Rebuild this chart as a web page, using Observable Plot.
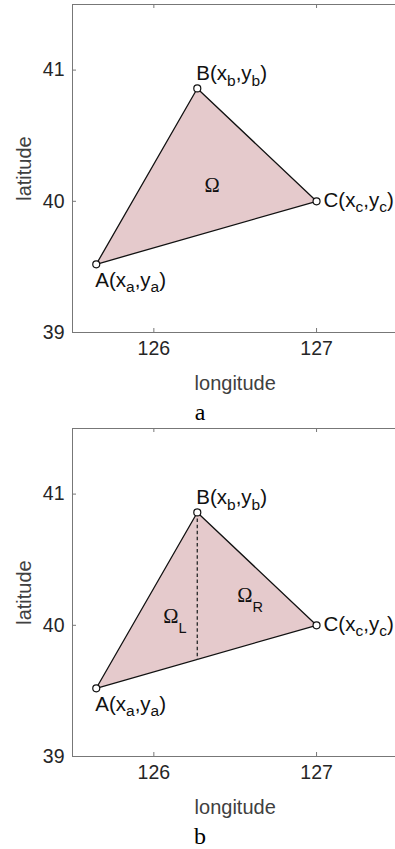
<!DOCTYPE html>
<html>
<head>
<meta charset="utf-8">
<script src="https://cdn.jsdelivr.net/npm/d3@7"></script>
<script src="https://cdn.jsdelivr.net/npm/@observablehq/plot@0.6"></script>
<style>
  html, body { margin: 0; padding: 0; background: #fff; overflow: hidden; width: 395px; height: 849px; }
  .panel { width: 395px; }
  .panel svg { overflow: hidden; display: block; }
  .caption { font-family: "Liberation Serif", "DejaVu Serif", serif; font-size: 24px; color: #000; text-align: center; padding-left: 5px; }
</style>
</head>
<body>
<div id="panel-a" class="panel"></div>
<div id="panel-b" class="panel"></div>
<script>
// Triangle vertices (longitude, latitude)
const vertexNames = ["A", "B", "C"];
const vertexLon = [125.646, 126.267, 127.0];
const vertexLat = [39.52, 40.86, 40.0];
const vertexLabels = ["A(x_a,y_a)", "B(x_b,y_b)", "C(x_c,y_c)"];

// Region labels, panel a (whole triangle) and panel b (split at x_b)
const regionNamesA = ["Ω"];
const regionLonA = [126.312];
const regionLatA = [40.12];
const regionNamesB = ["Ω_L", "Ω_R"];
const regionLonB = [126.058, 126.513];
const regionLatB = [40.064, 40.227];

// Axes
const xTicks = [126, 127];
const yTicks = [39, 40, 41];
const xDomain = [125.5, 127.5];
const yDomain = [39, 41.5];
const captions = ["a", "b"];

const vertices = vertexNames.map((name, i) => ({name, lon: vertexLon[i], lat: vertexLat[i], label: vertexLabels[i]}));
const ring = [...vertices, vertices[0]];

// Foot of the vertical through B on segment AC
const [A, B, C] = vertices;
const footLat = A.lat + (B.lon - A.lon) * (C.lat - A.lat) / (C.lon - A.lon);

const W = 395, ML = 72, MR = -2.4, MB = 64, FRAME_H = 328, TICK = 4;
const frameW = W - ML - MR;
const SANS = "Liberation Sans, Arial, sans-serif";
const SERIF = "Liberation Serif, DejaVu Serif, serif";

// Turn "x_a" into x with a lowered, smaller "a"
function addSubscripts(svg) {
  d3.select(svg).selectAll("text").each(function () {
    const node = d3.select(this);
    const s = node.text();
    if (!s.includes("_")) return;
    const isRegion = s.startsWith("Ω");
    const subSize = isRegion ? 14.5 : 15.5;
    const drop = isRegion ? 10 : 5.5;
    const parts = s.split("_");
    node.text(null);
    node.append("tspan").text(parts[0]);
    parts.slice(1).forEach(p => {
      const sub = node.append("tspan").attr("dy", drop).attr("font-size", subSize).text(p[0]);
      if (isRegion) sub.attr("font-family", SANS);
      if (p.length > 1) node.append("tspan").attr("dy", -drop).text(p.slice(1));
    });
  });
}

function panel(regionNames, regionLon, regionLat, divider, marginTop) {
  const regions = regionNames.map((name, i) => ({name, lon: regionLon[i], lat: regionLat[i]}));
  const frameColor = "#777";
  const marks = [
    // filled triangle
    Plot.line(ring, {x: "lon", y: "lat", fill: "#e5cacc", stroke: "#111", strokeWidth: 1.3}),
    divider ? Plot.link([B], {x1: "lon", y1: "lat", x2: "lon", y2: () => footLat, stroke: "#333", strokeWidth: 1.4, strokeDasharray: "3.5,2.6"}) : null,
    // box: top, bottom, left
    Plot.ruleY([yDomain[1]], {stroke: frameColor, strokeWidth: 1}),
    Plot.ruleY([yDomain[0]], {stroke: frameColor, strokeWidth: 1}),
    Plot.ruleX([xDomain[0]], {stroke: frameColor, strokeWidth: 1}),
    // inward ticks
    Plot.ruleX(xTicks, {stroke: frameColor, insetTop: FRAME_H - TICK}),
    Plot.ruleX(xTicks, {stroke: frameColor, insetBottom: FRAME_H - TICK}),
    Plot.ruleY(yTicks, {stroke: frameColor, insetRight: frameW - TICK}),
    Plot.axisX({ticks: xTicks, tickFormat: d => String(d), tickSize: 0, tickPadding: 9, label: null, fontSize: 19.5}),
    Plot.axisY({ticks: yTicks, tickFormat: d => String(d), tickSize: 0, tickPadding: 8, label: null, fontSize: 19.5}),
    Plot.text(["longitude"], {frameAnchor: "bottom", lineAnchor: "middle", textAnchor: "middle", dy: 51.5, fontSize: 20, fill: "#404040"}),
    Plot.text(["latitude"], {frameAnchor: "left", lineAnchor: "middle", textAnchor: "middle", dx: -47.5, rotate: -90, fontSize: 20, fill: "#404040"}),
    // vertex markers and labels
    Plot.dot(vertices, {x: "lon", y: "lat", r: 3.5, fill: "white", stroke: "#111", strokeWidth: 1.2}),
    Plot.text(vertices.filter(d => d.name === "A"), {x: "lon", y: "lat", text: "label", textAnchor: "start", lineAnchor: "middle", dx: -1, dy: 16, fontSize: 20.5, fill: "#111"}),
    Plot.text(vertices.filter(d => d.name === "B"), {x: "lon", y: "lat", text: "label", textAnchor: "start", lineAnchor: "middle", dx: -1, dy: -15, fontSize: 20.5, fill: "#111"}),
    Plot.text(vertices.filter(d => d.name === "C"), {x: "lon", y: "lat", text: "label", textAnchor: "start", lineAnchor: "middle", dx: 7, dy: -1, fontSize: 20.5, fill: "#111"}),
    // region names
    Plot.text(regions, {x: "lon", y: "lat", text: "name", textAnchor: "start", lineAnchor: "middle", fontSize: 20.5, fontFamily: SERIF, fill: "#111"})
  ];
  const svg = Plot.plot({
    width: W,
    height: marginTop + FRAME_H + MB,
    marginTop,
    marginBottom: MB,
    marginLeft: ML,
    marginRight: MR,
    x: {domain: xDomain},
    y: {domain: yDomain},
    style: {fontFamily: SANS, fontSize: "19px", color: "#262626", background: "white", overflow: "hidden"},
    marks
  });
  addSubscripts(svg);
  return svg;
}

function caption(text, lineHeight, padTop) {
  const div = document.createElement("div");
  div.className = "caption";
  div.style.lineHeight = lineHeight + "px";
  div.style.paddingTop = padTop + "px";
  div.textContent = text;
  return div;
}

const pa = document.getElementById("panel-a");
pa.append(panel(regionNamesA, regionLonA, regionLatA, false, 4));
pa.append(caption(captions[0], 32, 0));

const pb = document.getElementById("panel-b");
pb.append(panel(regionNamesB, regionLonB, regionLatB, true, 0));
pb.append(caption(captions[1], 22, 4.5));
</script>
</body>
</html>
